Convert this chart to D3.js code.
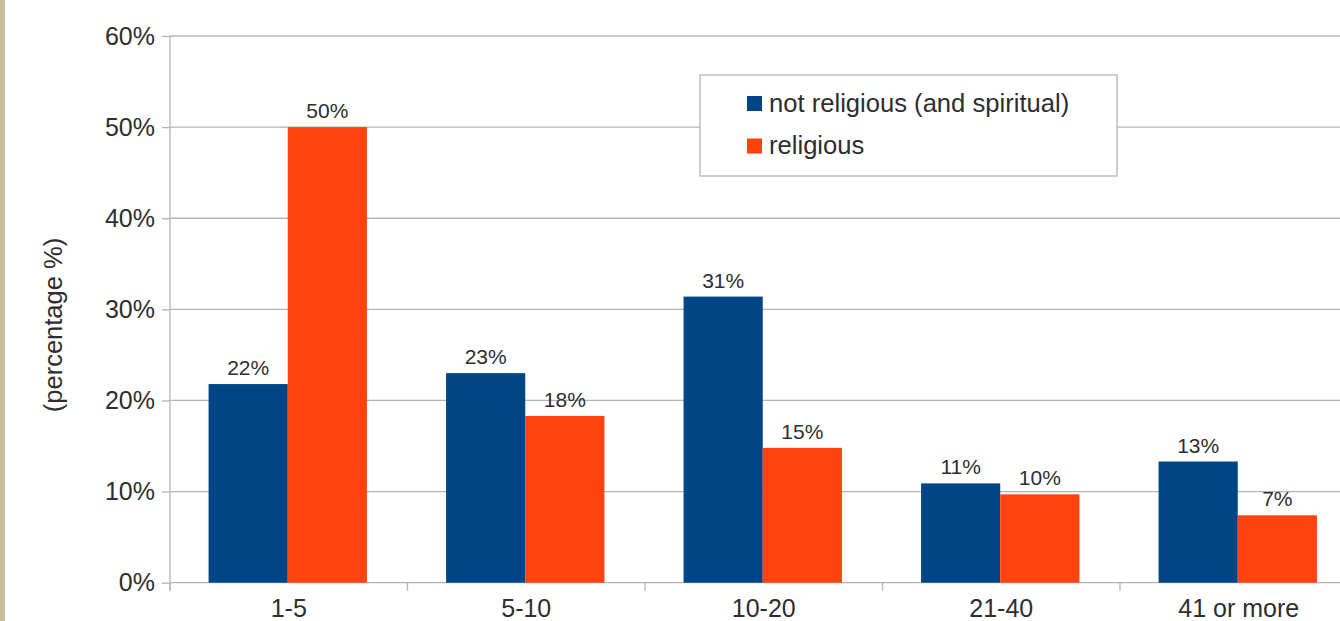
<!DOCTYPE html>
<html>
<head>
<meta charset="utf-8">
<script src="https://cdn.jsdelivr.net/npm/d3@7"></script>
<style>
  html, body { margin: 0; padding: 0; background: #fff; }
  svg { display: block; font-family: "Liberation Sans", Arial, sans-serif; }
</style>
</head>
<body>
<svg id="chart" width="1340" height="621"></svg>
<script>
// Age groups (years) and share of respondents per group
const categories = ["1-5", "5-10", "10-20", "21-40", "41 or more"];
const seriesNames = ["not religious (and spiritual)", "religious"];
const notReligious = [21.8, 23.0, 31.4, 10.9, 13.3];
const religious = [50.0, 18.3, 14.8, 9.7, 7.4];
const yTicks = [0, 10, 20, 30, 40, 50, 60];
const seriesColors = ["#004586", "#ff420e"];
const yTitle = "(percentage %)";

const seriesValues = [notReligious, religious];
const rows = categories.map((c, i) => ({
  category: c,
  values: seriesNames.map((s, k) => ({ series: s, value: seriesValues[k][i] }))
}));

const svg = d3.select("#chart");
const W = 1340, H = 621;
const plotLeft = 170, plotTop = 36, plotBottom = 582.7;
const band = 237.5;

// Narrow beige page edge
svg.append("rect").attr("x", 0).attr("y", 0).attr("width", 5).attr("height", H)
  .attr("fill", "#c8c09a");

const x = d3.scaleBand().domain(categories)
  .range([plotLeft, plotLeft + band * categories.length]).paddingInner(0).paddingOuter(0);
const x1 = d3.scaleBand().domain(seriesNames).range([-1, x.bandwidth() - 1])
  .paddingInner(0).paddingOuter(0.5);
const y = d3.scaleLinear().domain([0, 60]).range([plotBottom, plotTop]);
const color = d3.scaleOrdinal().domain(seriesNames).range(seriesColors);

const grid = "#b3b3b3";
const textCol = "#2e2e2e";

// Horizontal gridlines
svg.append("g").selectAll("line").data(yTicks).join("line")
  .attr("x1", plotLeft).attr("x2", W)
  .attr("y1", d => y(d)).attr("y2", d => y(d))
  .attr("stroke", grid).attr("stroke-width", 1.3);

// Y axis
const yAxis = svg.append("g").attr("transform", `translate(${plotLeft},0)`)
  .call(d3.axisLeft(y).tickValues(yTicks).tickFormat(d => d + "%")
    .tickSize(8).tickPadding(7));
yAxis.select(".domain").attr("stroke", grid).attr("stroke-width", 1.3)
  .attr("d", `M0,${plotTop}V${plotBottom + 8}`);
yAxis.selectAll(".tick line").attr("stroke", grid).attr("stroke-width", 1.3);
yAxis.selectAll(".tick text").attr("fill", textCol)
  .style("font-size", "25px").attr("dy", "0.33em");

// X axis: labels centred under groups, ticks on group boundaries
const xAxis = svg.append("g").attr("transform", `translate(0,${plotBottom})`)
  .call(d3.axisBottom(x).tickSize(0).tickPadding(0));
xAxis.select(".domain").remove();
xAxis.selectAll(".tick text").attr("fill", textCol)
  .style("font-size", "25px").attr("y", 34).attr("dy", 0);

const bounds = d3.range(categories.length + 1).map(i => plotLeft + i * band);
svg.append("g").selectAll("line").data(bounds).join("line")
  .attr("x1", d => d).attr("x2", d => d)
  .attr("y1", plotBottom).attr("y2", plotBottom + 8)
  .attr("stroke", grid).attr("stroke-width", 1.3);

// Bars
const groups = svg.append("g").selectAll("g").data(rows).join("g")
  .attr("transform", d => `translate(${x(d.category)},0)`);

groups.selectAll("rect").data(d => d.values).join("rect")
  .attr("x", d => x1(d.series))
  .attr("width", x1.bandwidth())
  .attr("y", d => y(d.value))
  .attr("height", d => y(0) - y(d.value))
  .attr("fill", d => color(d.series));

// Value labels
groups.selectAll("text").data(d => d.values).join("text")
  .attr("x", d => x1(d.series) + x1.bandwidth() / 2)
  .attr("y", d => y(d.value) - 9)
  .attr("text-anchor", "middle")
  .attr("fill", textCol)
  .style("font-size", "21px")
  .text(d => Math.round(d.value) + "%");

// Y axis title
svg.append("text")
  .attr("transform", `translate(62,325) rotate(-90)`)
  .attr("text-anchor", "middle")
  .attr("fill", textCol)
  .style("font-size", "25.5px")
  .text(yTitle);

// Legend
const legend = svg.append("g");
legend.append("rect")
  .attr("x", 700).attr("y", 75).attr("width", 417).attr("height", 101)
  .attr("fill", "#fff").attr("stroke", grid).attr("stroke-width", 1.3);
const items = legend.selectAll("g.item").data(seriesNames).join("g")
  .attr("class", "item")
  .attr("transform", (d, i) => `translate(747,${96 + i * 42.5})`);
items.append("rect").attr("width", 15).attr("height", 15)
  .attr("fill", d => color(d));
items.append("text").attr("x", 22).attr("y", 15.5)
  .attr("fill", textCol).style("font-size", "25.6px")
  .text(d => d);
</script>
</body>
</html>
